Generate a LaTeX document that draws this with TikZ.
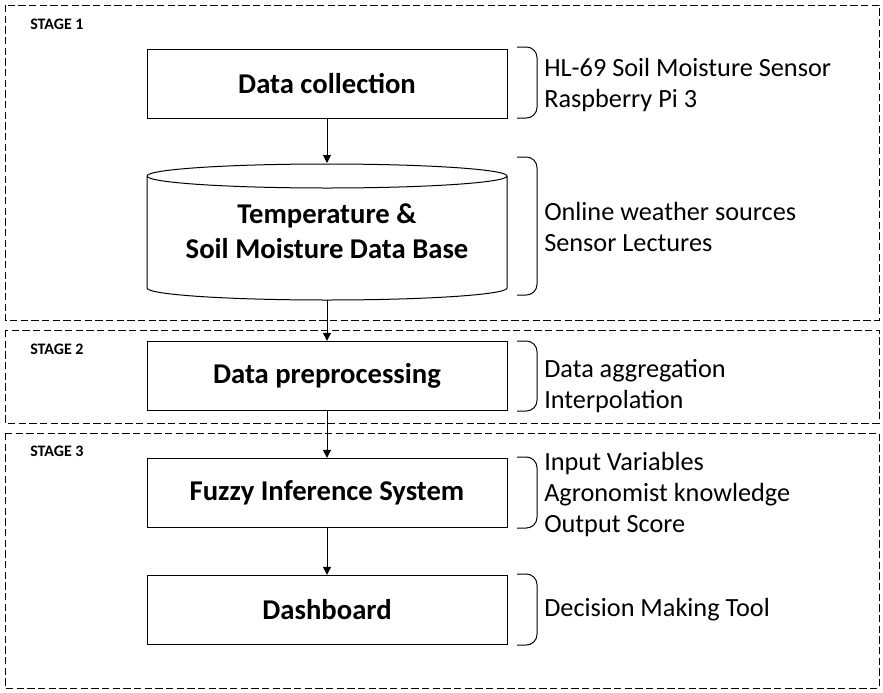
\documentclass[tikz,border=0pt]{standalone}
\usepackage{fontspec}
\setmainfont{Carlito}
\usetikzlibrary{arrows.meta, positioning}

\tikzset{
    stagebox/.style={draw, line width=0.75pt, dash pattern=on 5.5pt off 2.5pt},
    stagelabel/.style={anchor=west, font=\fontsize{12}{14}\selectfont\bfseries, inner sep=0pt},
    procbox/.style={draw, line width=0.75pt, minimum width=270pt, minimum height=52pt,
        font=\fontsize{21.5}{26}\selectfont\bfseries, align=center},
    notes/.style={anchor=west, align=left, inner sep=0pt, font=\fontsize{19.7}{23.25}\selectfont},
    bracket/.style={line width=0.75pt, rounded corners=8pt},
    flow/.style={line width=0.75pt, -{Triangle[length=6pt, width=6pt]}}
}

\begin{document}
\begin{tikzpicture}[x=0.75pt, y=-0.75pt]
        \useasboundingbox (0,0) rectangle (883,693);
        % stages
        \draw[stagebox] (5,5) rectangle (879,320);
        \draw[stagebox] (5,330) rectangle (879,423);
        \draw[stagebox] (5,433) rectangle (879,688);
        \node[stagelabel] (S1) at (30,24) {STAGE 1};
        \node[stagelabel] (S2) at (30,349) {STAGE 2};
        \node[stagelabel] (S3) at (30,451) {STAGE 3};
        % main steps
        \node[procbox] (collect) at (327,84) {Data collection};
        \node[procbox, draw=none, minimum height=102pt] (db) at (327,231.5)
            {Temperature \&\\Soil Moisture Data Base};
        \node[procbox] (prep) at (327,376) {\raisebox{-2.5pt}{Data preprocessing}};
        \node[procbox] (fis) at (327,493) {\raisebox{-2pt}{Fuzzy Inference System}};
        \node[procbox] (dash) at (327,610) {\raisebox{-1.5pt}{Dashboard}};
        % data base cylinder
        \draw[line width=0.75pt] (147,176) arc[start angle=180, end angle=-180, x radius=180, y radius=12]
            (147,176) -- (147,288) arc[start angle=180, end angle=0, x radius=180, y radius=12] -- (507,176);
        % flow
        \draw[flow] (collect) -- (db);
        \draw[flow] (db) -- (prep);
        \draw[flow] (prep) -- (fis);
        \draw[flow] (fis) -- (dash);
        % side notes
        \draw[bracket] (517,47) -- (537,47) -- (537,118) -- (517,118);
        \draw[bracket] (517,157) -- (537,157) -- (537,295) -- (517,295);
        \draw[bracket] (517,341) -- (537,341) -- (537,411) -- (517,411);
        \draw[bracket] (517,457) -- (537,457) -- (537,528) -- (517,528);
        \draw[bracket] (517,574) -- (537,574) -- (537,645) -- (517,645);
        \node[notes] (n1) at (544,84.5) {HL-69 Soil Moisture Sensor\\Raspberry Pi 3};
        \node[notes] (n2) at (544,226.5) {Online weather sources\\Sensor Lectures};
        \node[notes] (n3) at (544,386) {Data aggregation\\Interpolation};
        \node[notes] (n4) at (544,494) {Input Variables\\Agronomist knowledge\\Output Score};
        \node[notes] (n5) at (544,610) {Decision Making Tool};
    \end{tikzpicture}
\end{document}
